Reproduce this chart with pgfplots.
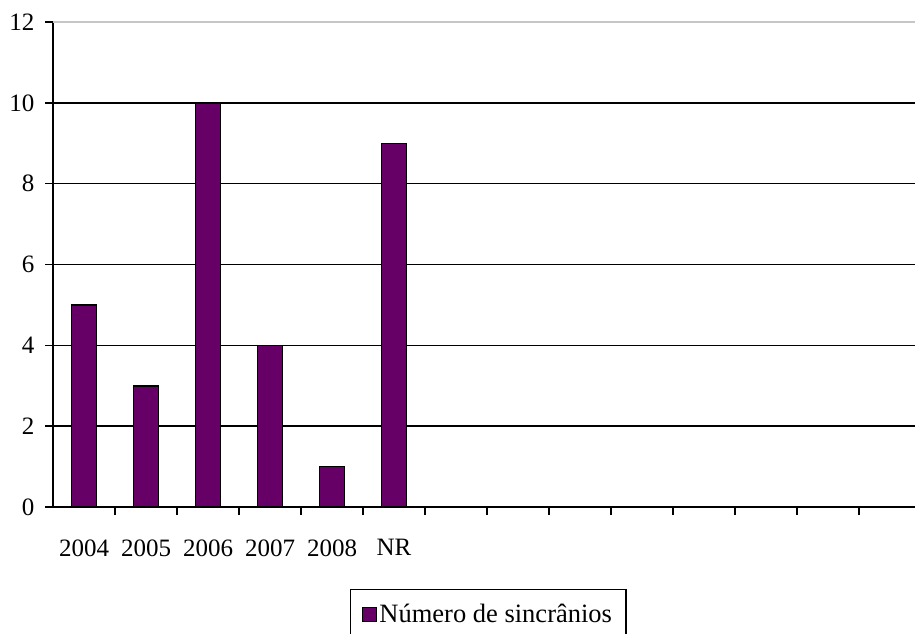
\documentclass[border=0pt]{standalone}
\usepackage{fontspec}
\setmainfont{Liberation Serif}
\usepackage{pgfplots}
\pgfplotsset{compat=1.18}
\definecolor{barcol}{HTML}{660066}
\begin{document}
\fontsize{25}{30}\selectfont
\begin{tikzpicture}
\useasboundingbox (0,0) rectangle (915pt,633pt);
\begin{axis}[
  at={(53pt,126pt)}, anchor=south west,
  width=868pt, height=485pt, scale only axis,
  xmin=0, xmax=14, ymin=0, ymax=12,
  axis lines*=left,
  axis line style={black, line width=1.6pt},
  ytick={0,2,...,12},
  ymajorgrids,
  major grid style={black, line width=1.6pt},
  xtick={0.5,1.5,...,5.5},
  xticklabels={2004,2005,2006,2007,2008,NR},
  minor xtick={1,2,...,13},
  major x tick style={draw=none},
  tick style={black, line width=1.6pt},
  tick align=outside,
  major tick length=8pt, minor tick length=8pt,
  xticklabel style={yshift=-16pt},
  yticklabel style={xshift=-2pt},
  /pgf/number format/assume math mode=true,
  tick label style={font=\fontsize{25}{30}\selectfont},
  clip=false,
  legend style={at={(0.342,-0.169)}, anchor=north west, draw=black, line width=1.2pt,
    font=\fontsize{26.5}{30}\selectfont, inner xsep=12pt, inner ysep=12pt,
    legend cell align=left},
  legend image code/.code={\draw[fill=barcol,draw=black,line width=1pt] (0pt,-7pt) rectangle (14pt,7pt);},
]
\addplot[ybar, bar width=25pt, fill=barcol, draw=black, line width=1.5pt]
  coordinates {(0.5,5) (1.5,3) (2.5,10) (3.5,4) (4.5,1) (5.5,9)};
\addlegendentry{Número de sincrânios}
\draw[white, line width=2pt] (axis cs:0,12) -- (axis cs:14,12);
\draw[gray!45, line width=1.4pt] (axis cs:0,12) -- (axis cs:14,12);
\end{axis}
\end{tikzpicture}
\end{document}
